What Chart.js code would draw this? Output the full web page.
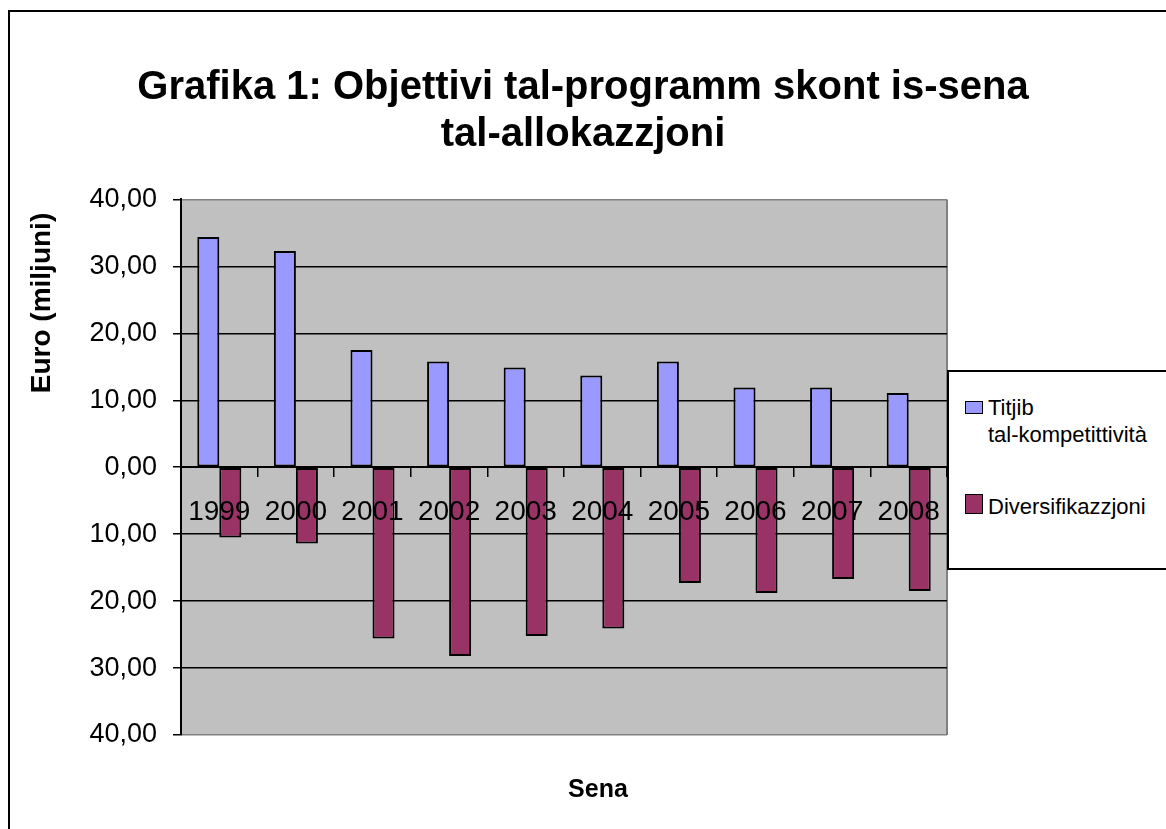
<!DOCTYPE html>
<html>
<head>
<meta charset="utf-8">
<script src="https://cdn.jsdelivr.net/npm/chart.js@4/dist/chart.umd.min.js"></script>
<style>
html,body{margin:0;padding:0;background:#fff;overflow:hidden;}
#wrap{position:relative;width:1166px;height:829px;overflow:hidden;}
#c{position:absolute;left:0;top:0;}
#frame{position:absolute;left:8px;top:10px;width:1300px;height:1000px;border:2px solid #000;pointer-events:none;}
#legend{position:absolute;left:947px;top:370px;width:260px;height:196px;border:2px solid #000;background:#fff;font-family:"Liberation Sans",Arial,sans-serif;font-size:22px;color:#000;}
.sw{position:absolute;box-sizing:border-box;border:1.5px solid #000;}
.lt{position:absolute;white-space:nowrap;line-height:22px;}
</style>
</head>
<body>
<div id="wrap">
  <canvas id="c" width="1166" height="829"></canvas>
  <div id="frame"></div>
  <div id="legend"></div>
</div>
<script>
// ---- data ----
const TITLE_LINES = ['Grafika 1: Objettivi tal-programm skont is-sena', 'tal-allokazzjoni'];
const Y_TITLE = 'Euro (miljuni)';
const X_TITLE = 'Sena';
const YEARS = ['1999','2000','2001','2002','2003','2004','2005','2006','2007','2008'];
const SERIES_NAMES = ['Titjib tal-kompetittività', 'Diversifikazzjoni'];
const COMPETITIVENESS = [34.4, 32.3, 17.5, 15.8, 14.9, 13.7, 15.8, 11.9, 11.9, 11.1];
const DIVERSIFICATION = [-10.5, -11.4, -25.6, -28.2, -25.2, -24.1, -17.3, -18.8, -16.7, -18.5];
const Y_TICK_VALUES = [-40, -30, -20, -10, 0, 10, 20, 30, 40];
const Y_TICK_LABELS = ['40,00','30,00','20,00','10,00','0,00','10,00','20,00','30,00','40,00'];
const COLORS = ['#9999FF', '#993366'];

const FAMILY = '"Liberation Sans", Arial, sans-serif';
Chart.defaults.font.family = FAMILY;
Chart.defaults.color = '#000';

const plotBg = {
  id: 'plotBg',
  beforeDraw(chart) {
    const {ctx, chartArea: a} = chart;
    ctx.save();
    ctx.fillStyle = '#C0C0C0';
    ctx.fillRect(a.left, a.top, a.right - a.left, a.bottom - a.top);
    ctx.strokeStyle = '#808080';
    ctx.lineWidth = 2;
    ctx.beginPath();
    ctx.moveTo(a.right, a.top);
    ctx.lineTo(a.right, a.bottom);
    ctx.stroke();
    ctx.restore();
  }
};

const axisTitles = {
  id: 'axisTitles',
  afterDraw(chart) {
    const ctx = chart.ctx;
    ctx.save();
    ctx.fillStyle = '#000';
    ctx.font = 'bold 28px ' + FAMILY;
    ctx.textAlign = 'center';
    ctx.textBaseline = 'middle';
    ctx.translate(42, 303);
    ctx.rotate(-Math.PI / 2);
    ctx.fillText(Y_TITLE, 0, 0);
    ctx.restore();
    ctx.save();
    ctx.fillStyle = '#000';
    ctx.font = 'bold 25px ' + FAMILY;
    ctx.textAlign = 'center';
    ctx.textBaseline = 'middle';
    ctx.fillText(X_TITLE, 598, 790);
    ctx.restore();
  }
};

new Chart(document.getElementById('c'), {
  type: 'bar',
  data: {
    labels: YEARS,
    datasets: [
      { label: SERIES_NAMES[0], data: COMPETITIVENESS, backgroundColor: COLORS[0], borderColor: '#000', borderWidth: 2, borderSkipped: false, categoryPercentage: 0.575, barPercentage: 1.0 },
      { label: SERIES_NAMES[1], data: DIVERSIFICATION, backgroundColor: COLORS[1], borderColor: '#000', borderWidth: 2, borderSkipped: false, categoryPercentage: 0.575, barPercentage: 1.0 }
    ]
  },
  options: {
    responsive: false,
    animation: false,
    devicePixelRatio: 1,
    layout: { padding: { top: 0, left: 0, right: 0, bottom: 94 } },
    plugins: {
      legend: { display: false },
      tooltip: { enabled: false },
      title: {
        display: true,
        text: TITLE_LINES,
        color: '#000',
        font: { size: 40, weight: 'bold', family: FAMILY, lineHeight: 1.18 },
        padding: { top: 64, bottom: 41 }
      }
    },
    scales: {
      x: {
        position: { y: 0 },
        offset: true,
        ticks: { font: { size: 28 }, color: '#000', padding: 19, z: 1, maxRotation: 0, autoSkip: false },
        grid: { offset: true, drawOnChartArea: false, drawTicks: true, tickLength: 9, color: '#000', lineWidth: 1.5 },
        border: { color: '#000', width: 2, z: 1 }
      },
      y: {
        min: -40, max: 40,
        ticks: {
          stepSize: 10,
          font: { size: 27 },
          color: '#000',
          padding: 16,
          callback: (v) => { const i = Y_TICK_VALUES.indexOf(v); return i >= 0 ? Y_TICK_LABELS[i] : ''; }
        },
        grid: {
          color: (c) => (c.tick && Math.abs(c.tick.value) === 40) ? '#808080' : '#000',
          lineWidth: 1.5,
          tickColor: '#000',
          tickLength: 8
        },
        border: { color: '#000', width: 2 },
        afterFit(s) { s.width = 181; }
      },
      yRight: {
        type: 'linear',
        position: 'right',
        display: true,
        ticks: { display: false },
        grid: { display: false, drawTicks: false },
        border: { display: false },
        afterFit(s) { s.width = 219; }
      }
    }
  },
  plugins: [plotBg, axisTitles]
});

// ---- HTML legend ----
const legend = document.getElementById('legend');
const swatches = [[16, 29, 18, 13], [16, 122, 18, 20]];
swatches.forEach((sw, k) => {
  const s = document.createElement('div');
  s.className = 'sw';
  s.style.left = sw[0] + 'px'; s.style.top = sw[1] + 'px';
  s.style.width = sw[2] + 'px'; s.style.height = sw[3] + 'px';
  s.style.background = COLORS[k];
  legend.appendChild(s);
});
const nameParts = [SERIES_NAMES[0].split(' '), [SERIES_NAMES[1]]];
const tops = [[25, 52], [124]];
nameParts.forEach((parts, k) => {
  parts.forEach((p, j) => {
    const t = document.createElement('div');
    t.className = 'lt';
    t.textContent = p;
    t.style.left = '39px';
    t.style.top = tops[k][j] + 'px';
    legend.appendChild(t);
  });
});
</script>
</body>
</html>
